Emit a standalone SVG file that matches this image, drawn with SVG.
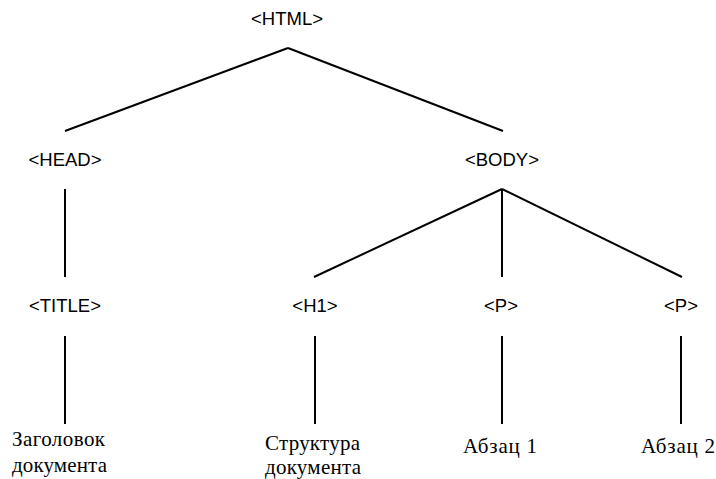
<svg xmlns="http://www.w3.org/2000/svg" width="716" height="479" viewBox="0 0 716 479">
<style>
.tag{font-family:"Liberation Sans",Arial,sans-serif;font-size:18.5px;fill:#000;text-anchor:middle}
.txt{font-family:"Liberation Serif","Times New Roman",serif;font-size:21px;fill:#000}
.ln{stroke:#000;stroke-width:2;fill:none}
</style>
<rect width="716" height="479" fill="#fff"/>
<g id="connectors">
<line class="ln" x1="288" y1="48" x2="65" y2="131"/>
<line class="ln" x1="288" y1="48" x2="503" y2="131"/>
<line class="ln" x1="65" y1="189" x2="65" y2="277"/>
<line class="ln" x1="502" y1="189" x2="314" y2="277"/>
<line class="ln" x1="502" y1="189" x2="502" y2="277"/>
<line class="ln" x1="502" y1="189" x2="682" y2="277"/>
<line class="ln" x1="65" y1="336" x2="65" y2="424"/>
<line class="ln" x1="315" y1="336" x2="315" y2="424"/>
<line class="ln" x1="502" y1="336" x2="502" y2="424"/>
<line class="ln" x1="681" y1="336" x2="681" y2="424"/>
</g>
<g id="html"><text class="tag" x="287" y="25">&lt;HTML&gt;</text></g>
<g id="head"><text class="tag" x="65" y="166">&lt;HEAD&gt;</text></g>
<g id="body"><text class="tag" x="502" y="166">&lt;BODY&gt;</text></g>
<g id="title"><text class="tag" x="65" y="312">&lt;TITLE&gt;</text></g>
<g id="h1"><text class="tag" x="315" y="312">&lt;H1&gt;</text></g>
<g id="p1"><text class="tag" x="501" y="312">&lt;P&gt;</text></g>
<g id="p2"><text class="tag" x="681" y="312">&lt;P&gt;</text></g>
<g id="title-text"><text class="txt" x="12" y="446" textLength="93">Заголовок</text><text class="txt" x="12" y="472" textLength="95">документа</text></g>
<g id="h1-text"><text class="txt" x="265" y="450" textLength="95">Структура</text><text class="txt" x="265" y="474" textLength="96">документа</text></g>
<g id="p1-text"><text class="txt" x="463" y="453" textLength="74">Абзац 1</text></g>
<g id="p2-text"><text class="txt" x="641" y="453" textLength="74">Абзац 2</text></g>
</svg>
